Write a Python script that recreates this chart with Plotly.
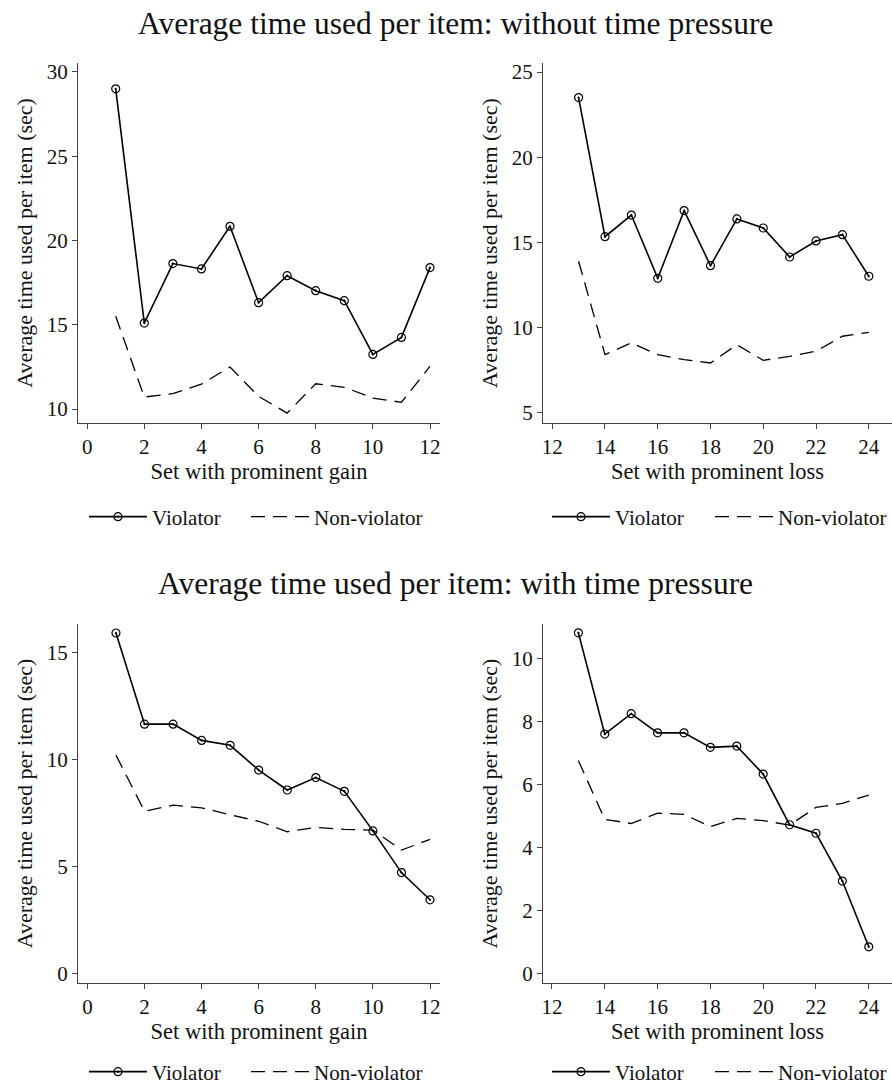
import plotly.graph_objects as go

# Set numbers
sets_gain = list(range(1, 13))
sets_loss = list(range(13, 25))

# Average seconds per item, no time pressure
nopress_gain_violator = [29.0, 15.1, 18.63, 18.31, 20.84, 16.31, 17.91, 17.02, 16.43, 13.24, 14.25, 18.39]
nopress_gain_nonviolator = [15.5, 10.71, 10.91, 11.48, 12.49, 10.75, 9.76, 11.5, 11.29, 10.65, 10.4, 12.53]
nopress_loss_violator = [23.5, 15.34, 16.61, 12.9, 16.87, 13.64, 16.38, 15.85, 14.15, 15.09, 15.46, 13.02]
nopress_loss_nonviolator = [13.9, 8.42, 9.11, 8.42, 8.13, 7.93, 9.0, 8.09, 8.32, 8.62, 9.5, 9.73]

# Average seconds per item, with time pressure
press_gain_violator = [15.92, 11.66, 11.66, 10.9, 10.67, 9.51, 8.58, 9.16, 8.52, 6.67, 4.72, 3.45]
press_gain_nonviolator = [10.21, 7.59, 7.87, 7.75, 7.42, 7.12, 6.63, 6.83, 6.74, 6.71, 5.77, 6.27]
press_loss_violator = [10.83, 7.61, 8.26, 7.65, 7.65, 7.19, 7.23, 6.34, 4.73, 4.46, 2.94, 0.85]
press_loss_nonviolator = [6.77, 4.9, 4.77, 5.1, 5.06, 4.67, 4.93, 4.86, 4.72, 5.28, 5.41, 5.67]

title_top = "Average time used per item: without time pressure"
title_bottom = "Average time used per item: with time pressure"
y_title = "Average time used per item (sec)"
x_title_gain = "Set with prominent gain"
x_title_loss = "Set with prominent loss"

FONT = "Liberation Serif, Times New Roman, serif"
W, H = 892, 1086

panels = [
    # (x, violator, nonviolator, xaxis id, yaxis id, legend ids)
    (sets_gain, nopress_gain_violator, nopress_gain_nonviolator, "x", "y", ("legend", "legend2")),
    (sets_loss, nopress_loss_violator, nopress_loss_nonviolator, "x2", "y2", ("legend3", "legend4")),
    (sets_gain, press_gain_violator, press_gain_nonviolator, "x3", "y3", ("legend5", "legend6")),
    (sets_loss, press_loss_violator, press_loss_nonviolator, "x4", "y4", ("legend7", "legend8")),
]

fig = go.Figure()
for xs, viol, nonviol, xa, ya, (lg_v, lg_n) in panels:
    fig.add_trace(go.Scatter(
        x=xs, y=viol, mode="lines+markers", name="Violator",
        xaxis=xa, yaxis=ya, legend=lg_v,
        line=dict(color="black", width=1.6),
        marker=dict(symbol="circle-open-dot", size=8, color="black",
                    line=dict(color="black", width=1.2)),
    ))
    fig.add_trace(go.Scatter(
        x=xs, y=nonviol, mode="lines", name="Non-violator",
        xaxis=xa, yaxis=ya, legend=lg_n,
        line=dict(color="black", width=1.3, dash="14px,8px"),
    ))


def px_x(px):
    return px / W


def px_y(py):
    return 1 - py / H


axis_common = dict(
    showgrid=False, zeroline=False, showline=True, linecolor="#444", linewidth=1,
    ticks="outside", ticklen=5, tickcolor="#444", tickwidth=1,
    tickfont=dict(family=FONT, size=21, color="#111"),
    mirror=False,
)

# Plot areas (pixel bounds)
col_left = (78, 440)
col_right = (543, 892)
row_top = (63, 423)
row_bottom = (624, 983)

layout_axes = {}
specs = [
    ("xaxis", "yaxis", col_left, row_top, [-0.32, 12.35], [9.17, 30.53], list(range(0, 13, 2)), [10, 15, 20, 25, 30], x_title_gain, "y", "x"),
    ("xaxis2", "yaxis2", col_right, row_top, [11.65, 24.88], [4.41, 25.53], list(range(12, 25, 2)), [5, 10, 15, 20, 25], x_title_loss, "y2", "x2"),
    ("xaxis3", "yaxis3", col_left, row_bottom, [-0.33, 12.35], [-0.44, 16.34], list(range(0, 13, 2)), [0, 5, 10, 15], x_title_gain, "y3", "x3"),
    ("xaxis4", "yaxis4", col_right, row_bottom, [11.66, 24.88], [-0.3, 11.11], list(range(12, 25, 2)), [0, 2, 4, 6, 8, 10], x_title_loss, "y4", "x4"),
]
for xk, yk, (x0, x1), (y0, y1), xr, yr, xt, yt, xtitle, anch_x, anch_y in specs:
    layout_axes[xk] = dict(
        axis_common, domain=[px_x(x0), px_x(x1)], range=xr, tickvals=xt,
        anchor=anch_x,
        title=dict(text=xtitle, font=dict(family=FONT, size=22.5, color="#111"), standoff=4),
    )
    layout_axes[yk] = dict(
        axis_common, domain=[px_y(y1), px_y(y0)], range=yr, tickvals=yt,
        anchor=anch_y,
        title=dict(text=y_title, font=dict(family=FONT, size=22, color="#111"), standoff=8),
    )

legend_common = dict(
    orientation="h", xanchor="left", yanchor="middle",
    font=dict(family=FONT, size=21, color="#111"),
    bgcolor="rgba(0,0,0,0)", itemwidth=58, tracegroupgap=0,
)

# Legend anchor positions in pixels: (violator x, non-violator x, y)
legend_pos = [(84, 246, 517), (547, 710, 517), (84, 246, 1072), (547, 710, 1072)]
legends = {}
for i, (xv, xn, yl) in enumerate(legend_pos):
    kv = "legend" if i == 0 else f"legend{2 * i + 1}"
    kn = f"legend{2 * i + 2}"
    legends[kv] = dict(legend_common, x=px_x(xv), y=px_y(yl))
    legends[kn] = dict(legend_common, x=px_x(xn), y=px_y(yl))

fig.update_layout(
    width=W, height=H,
    margin=dict(l=0, r=0, t=0, b=0, autoexpand=False),
    paper_bgcolor="white", plot_bgcolor="white",
    showlegend=True,
    annotations=[
        dict(text=title_top, x=px_x(455), y=px_y(23), xref="paper", yref="paper",
             showarrow=False, xanchor="center", yanchor="middle",
             font=dict(family=FONT, size=31.5, color="#111")),
        dict(text=title_bottom, x=px_x(455), y=px_y(583), xref="paper", yref="paper",
             showarrow=False, xanchor="center", yanchor="middle",
             font=dict(family=FONT, size=31.5, color="#111")),
    ],
    **legends,
    **layout_axes,
)

fig.write_html("out.html")
